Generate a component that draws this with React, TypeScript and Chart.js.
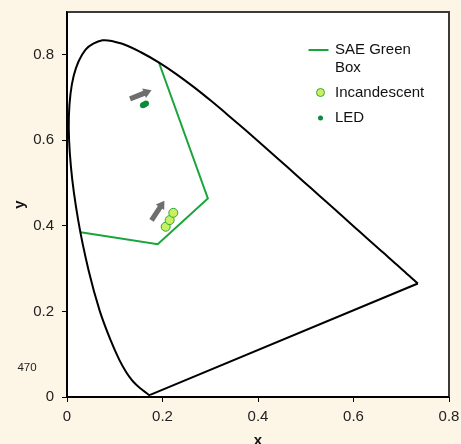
import { useEffect, useRef } from 'react';
import { Chart, registerables } from 'chart.js';

Chart.register(...registerables);

// CIE 1931 spectral locus, 380–700 nm in 5 nm steps
const spectralX = [
  0.1741, 0.1740, 0.1738, 0.1736, 0.1733, 0.1730, 0.1726, 0.1721, 0.1714, 0.1703,
  0.1689, 0.1669, 0.1644, 0.1611, 0.1566, 0.1510, 0.1440, 0.1355, 0.1241, 0.1096,
  0.0913, 0.0687, 0.0454, 0.0235, 0.0082, 0.0039, 0.0139, 0.0389, 0.0743, 0.1142,
  0.1547, 0.1929, 0.2296, 0.2658, 0.3016, 0.3373, 0.3731, 0.4087, 0.4441, 0.4788,
  0.5125, 0.5448, 0.5752, 0.6029, 0.6270, 0.6482, 0.6658, 0.6801, 0.6915, 0.7006,
  0.7079, 0.7140, 0.7190, 0.7230, 0.7260, 0.7283, 0.7300, 0.7311, 0.7320, 0.7327,
  0.7334, 0.7340, 0.7344, 0.7346, 0.7347,
];
const spectralY = [
  0.0050, 0.0050, 0.0049, 0.0049, 0.0048, 0.0048, 0.0048, 0.0048, 0.0051, 0.0058,
  0.0069, 0.0086, 0.0109, 0.0138, 0.0177, 0.0227, 0.0297, 0.0399, 0.0578, 0.0868,
  0.1327, 0.2007, 0.2950, 0.4127, 0.5384, 0.6548, 0.7502, 0.8120, 0.8338, 0.8262,
  0.8059, 0.7816, 0.7543, 0.7243, 0.6923, 0.6589, 0.6245, 0.5896, 0.5547, 0.5202,
  0.4866, 0.4544, 0.4242, 0.3965, 0.3725, 0.3514, 0.3340, 0.3197, 0.3083, 0.2993,
  0.2920, 0.2859, 0.2809, 0.2770, 0.2740, 0.2717, 0.2700, 0.2689, 0.2680, 0.2673,
  0.2666, 0.2660, 0.2656, 0.2654, 0.2653,
];

const saeBoxX = [0.0285, 0.19, 0.295, 0.1925];
const saeBoxY = [0.385, 0.357, 0.464, 0.782];

const incandescentX = [0.2067, 0.215, 0.2226];
const incandescentY = [0.398, 0.4135, 0.4305];

const ledX = [0.159, 0.162, 0.1655];
const ledY = [0.682, 0.684, 0.686];

const arrowFromX = [0.132, 0.177];
const arrowFromY = [0.697, 0.413];
const arrowToX = [0.177, 0.204];
const arrowToY = [0.717, 0.459];

const xTickValues = [0, 0.2, 0.4, 0.6, 0.8];
const xTickLabels = ['0', '0.2', '0.4', '0.6', '0.8'];
const yTickValues = [0, 0.2, 0.4, 0.6, 0.8];
const yTickLabels = ['0', '0.2', '0.4', '0.6', '0.8'];

const seriesLabels = ['SAE Green Box', 'Incandescent', 'LED'];
const wavelengthLabel = '470';
const wavelengthLabelY = 0.068;

const GREEN = '#1aa53a';
const INC_FILL = '#c8f060';
const INC_BORDER = '#33a83a';
const LED_COLOR = '#0b8a3c';
const FONT = '"Liberation Sans", Arial, sans-serif';

const toPts = (xs: number[], ys: number[]) => xs.map((x, i) => ({ x, y: ys[i] }));

export default function App() {
  const ref = useRef<HTMLCanvasElement | null>(null);

  useEffect(() => {
    document.body.style.margin = '0';
    document.body.style.background = '#fdf5e6';
    const canvas = ref.current;
    if (!canvas) return;

    const last = spectralX.length - 1;

    const bgPlugin = {
      id: 'bg',
      beforeDraw(chart: any) {
        const { ctx, chartArea: a } = chart;
        ctx.save();
        ctx.fillStyle = '#fdf5e6';
        ctx.fillRect(0, 0, chart.width, chart.height);
        ctx.fillStyle = '#ffffff';
        ctx.fillRect(a.left, a.top, a.right - a.left, a.bottom - a.top);
        ctx.restore();
      },
    };

    const overlayPlugin = {
      id: 'overlay',
      afterDraw(chart: any) {
        const { ctx, chartArea: a } = chart;
        const xs = chart.scales.x;
        const ys = chart.scales.y;
        ctx.save();
        // frame
        ctx.strokeStyle = '#3a3a3a';
        ctx.lineWidth = 2;
        ctx.beginPath();
        ctx.moveTo(a.left, a.top);
        ctx.lineTo(a.right, a.top);
        ctx.lineTo(a.right, a.bottom);
        ctx.stroke();
        ctx.strokeStyle = '#000';
        ctx.beginPath();
        ctx.moveTo(a.left, a.top);
        ctx.lineTo(a.left, a.bottom);
        ctx.lineTo(a.right, a.bottom);
        ctx.stroke();

        // arrows
        ctx.fillStyle = '#6e6e6e';
        for (let i = 0; i < arrowFromX.length; i++) {
          const x1 = xs.getPixelForValue(arrowFromX[i]);
          const y1 = ys.getPixelForValue(arrowFromY[i]);
          const x2 = xs.getPixelForValue(arrowToX[i]);
          const y2 = ys.getPixelForValue(arrowToY[i]);
          const dx = x2 - x1, dy = y2 - y1;
          const len = Math.hypot(dx, dy);
          const ux = dx / len, uy = dy / len;
          const nx = -uy, ny = ux;
          const headLen = 8, headW = 5, shaftW = 2.6;
          const bx = x2 - ux * headLen, by = y2 - uy * headLen;
          ctx.beginPath();
          ctx.moveTo(x1 + nx * shaftW, y1 + ny * shaftW);
          ctx.lineTo(bx + nx * shaftW, by + ny * shaftW);
          ctx.lineTo(bx + nx * headW, by + ny * headW);
          ctx.lineTo(x2, y2);
          ctx.lineTo(bx - nx * headW, by - ny * headW);
          ctx.lineTo(bx - nx * shaftW, by - ny * shaftW);
          ctx.lineTo(x1 - nx * shaftW, y1 - ny * shaftW);
          ctx.closePath();
          ctx.fill();
        }

        // wavelength label
        ctx.fillStyle = '#222';
        ctx.font = `11.5px ${FONT}`;
        ctx.textAlign = 'center';
        ctx.textBaseline = 'middle';
        ctx.fillText(wavelengthLabel, a.left - 40, ys.getPixelForValue(wavelengthLabelY));

        // legend
        ctx.font = `15px ${FONT}`;
        ctx.textAlign = 'left';
        const textX = a.right - 114;
        const markX = a.right - 128.5;
        const wrap = (t: string, maxW: number) => {
          const words = t.split(' ');
          const lines: string[] = [];
          let cur = '';
          for (const w of words) {
            const test = cur ? cur + ' ' + w : w;
            if (cur && ctx.measureText(test).width > maxW) {
              lines.push(cur);
              cur = w;
            } else cur = test;
          }
          if (cur) lines.push(cur);
          return lines;
        };
        let y = a.top + 38;
        const lh = 17.5;
        // SAE line
        const saeLines = wrap(seriesLabels[0], 85);
        ctx.strokeStyle = GREEN;
        ctx.lineWidth = 2;
        ctx.beginPath();
        ctx.moveTo(markX - 12, y);
        ctx.lineTo(markX + 8, y);
        ctx.stroke();
        ctx.fillStyle = '#111';
        saeLines.forEach((l, i) => ctx.fillText(l, textX, y + i * lh));
        y += (saeLines.length - 1) * lh + 25;
        // Incandescent
        ctx.beginPath();
        ctx.arc(markX, y, 4, 0, Math.PI * 2);
        ctx.fillStyle = INC_FILL;
        ctx.fill();
        ctx.strokeStyle = INC_BORDER;
        ctx.lineWidth = 1;
        ctx.stroke();
        ctx.fillStyle = '#111';
        ctx.fillText(seriesLabels[1], textX, y);
        y += 25.6;
        // LED
        ctx.beginPath();
        ctx.arc(markX, y, 2.5, 0, Math.PI * 2);
        ctx.fillStyle = LED_COLOR;
        ctx.fill();
        ctx.fillStyle = '#111';
        ctx.fillText(seriesLabels[2], textX, y);
        ctx.restore();
      },
    };

    const chart = new Chart(canvas, {
      type: 'scatter',
      data: {
        datasets: [
          {
            label: 'Spectral locus',
            data: toPts(spectralX, spectralY),
            showLine: true,
            borderColor: '#000',
            borderWidth: 2,
            pointRadius: 0,
            tension: 0.3,
            fill: false,
          },
          {
            label: 'Purple line',
            data: [
              { x: spectralX[last], y: spectralY[last] },
              { x: spectralX[0], y: spectralY[0] },
            ],
            showLine: true,
            borderColor: '#000',
            borderWidth: 2,
            pointRadius: 0,
            fill: false,
          },
          {
            label: seriesLabels[0],
            data: toPts(saeBoxX, saeBoxY),
            showLine: true,
            borderColor: GREEN,
            borderWidth: 2,
            pointRadius: 0,
            fill: false,
          },
          {
            label: seriesLabels[1],
            data: toPts(incandescentX, incandescentY),
            pointRadius: 4.5,
            backgroundColor: INC_FILL,
            borderColor: INC_BORDER,
            borderWidth: 1,
          },
          {
            label: seriesLabels[2],
            data: toPts(ledX, ledY),
            pointRadius: 3,
            backgroundColor: LED_COLOR,
            borderColor: LED_COLOR,
            borderWidth: 0,
          },
        ],
      },
      options: {
        responsive: false,
        animation: false,
        layout: { padding: { left: 0, top: 12, right: 12, bottom: 0 } },
        plugins: { legend: { display: false }, tooltip: { enabled: false } },
        scales: {
          x: {
            type: 'linear',
            min: 0,
            max: 0.8,
            afterFit: (s: any) => {
              s.height = 47;
              s.paddingLeft = 0;
              s.paddingRight = 0;
              s.paddingTop = 0;
              s.paddingBottom = 0;
            },
            afterBuildTicks: (s: any) => { s.ticks = xTickValues.map((v) => ({ value: v })); },
            ticks: {
              callback: (v: any) => xTickLabels[xTickValues.indexOf(Number(v))] ?? '',
              font: { family: FONT, size: 15 },
              color: '#222',
              padding: 6,
              maxRotation: 0,
            },
            grid: { display: true, drawOnChartArea: false, drawTicks: true, tickLength: 5, color: '#000' },
            border: { display: true, color: '#000', width: 2 },
            title: {
              display: true,
              text: 'x',
              font: { family: FONT, size: 15, weight: 'bold' },
              color: '#111',
              padding: { top: 0, bottom: -6 },
            },
          },
          y: {
            type: 'linear',
            min: 0,
            max: 0.9,
            afterFit: (s: any) => {
              s.width = 67;
              s.paddingLeft = 0;
              s.paddingRight = 0;
              s.paddingTop = 0;
              s.paddingBottom = 0;
            },
            afterBuildTicks: (s: any) => { s.ticks = yTickValues.map((v) => ({ value: v })); },
            ticks: {
              callback: (v: any) => yTickLabels[yTickValues.indexOf(Number(v))] ?? '',
              font: { family: FONT, size: 15 },
              color: '#222',
              padding: 8,
            },
            grid: { display: true, drawOnChartArea: false, drawTicks: true, tickLength: 5, color: '#000' },
            border: { display: true, color: '#000', width: 2 },
            title: {
              display: true,
              text: 'y',
              font: { family: FONT, size: 15, weight: 'bold' },
              color: '#111',
              padding: { top: 11, bottom: 0 },
            },
          },
        },
      },
      plugins: [bgPlugin, overlayPlugin],
    } as any);

    return () => chart.destroy();
  }, []);

  return (
    <div style={{ width: 461, height: 444 }}>
      <canvas ref={ref} width={461} height={444} style={{ display: 'block' }} />
    </div>
  );
}
